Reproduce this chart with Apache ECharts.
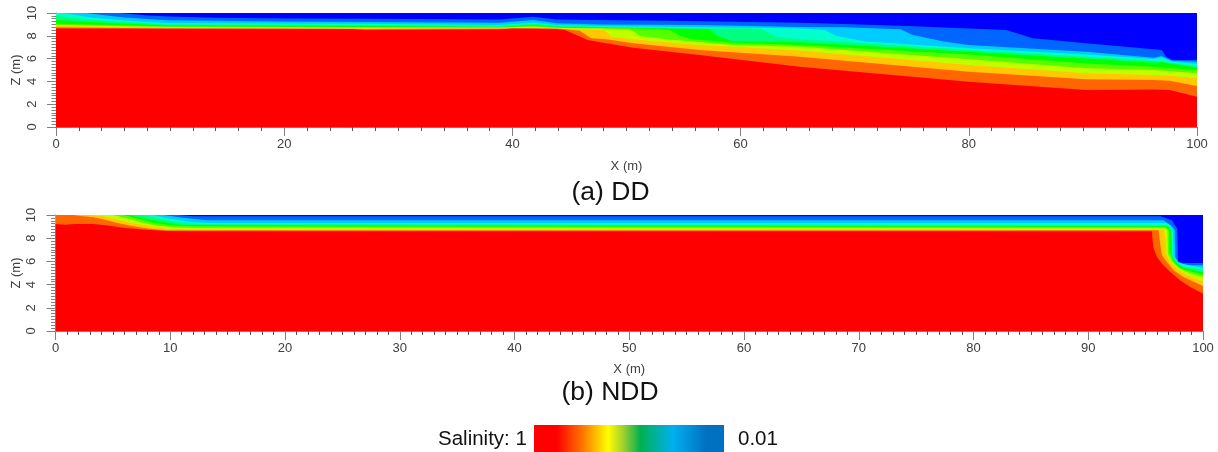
<!DOCTYPE html>
<html><head><meta charset="utf-8">
<style>html,body{margin:0;padding:0;background:#fff}#c{width:1218px;height:452px}</style>
<script src="https://cdn.jsdelivr.net/npm/echarts@6/dist/echarts.min.js"></script>
</head><body><div id="c"></div>
<script>
const layerColors=['#0000ff','#0066ff','#00ccff','#00ffcc','#00ff80','#00ff00','#55ff00','#c0ff00','#ffc800','#ff6600','#ff0000'];
const layerNames=['0.01','0.02','0.03','0.05','0.08','0.12','0.2','0.3','0.45','0.7','1'];
// DD: upper edge of each salinity band, [x, z]
const ddDeep=[[0,10],[100,10]];
const ddBlue=[[0,10],[5.6,10],[8,9.78],[10,9.7],[14,9.58],[20,9.52],[27,9.5],[38.9,9.44],[41.8,9.68],[43.9,9.44],[47.1,9.39],[53.5,9.33],[65.2,9.15],[69,9.03],[74,8.89],[83.3,8.51],[85.6,7.78],[90.3,7.34],[96.2,6.81],[96.9,6.75],[97.3,6.17],[97.8,5.88],[100,5.88]];
const ddCyan=[[0,10],[1,10],[2.6,10],[6,9.6],[9.7,9.36],[20,9.25],[27,9.2],[38.9,9.15],[41.8,9.39],[43.9,9.1],[47.7,9.0],[56.4,8.95],[65.2,8.78],[69,8.74],[74,8.57],[75.1,8.07],[77.8,7.49],[80,7.19],[90.3,6.6],[96.2,6.08],[96.9,6.23],[97.8,5.82],[100,5.73]];
const ddTurq=[[0,10],[1,9.95],[3,9.6],[6,9.35],[9.7,9.13],[20,9.08],[27,9.05],[38.9,8.95],[41.8,9.15],[43.9,8.95],[47.7,8.86],[56.4,8.74],[61.7,8.71],[65.2,8.65],[67.4,8.5],[68.4,7.98],[71,7.49],[80,6.9],[90.3,6.37],[96.2,5.96],[96.9,6.08],[97.9,5.73],[100,5.53]];
const ddSpring=[[0,9.75],[3,9.4],[6,9.2],[9.7,9.0],[20,8.98],[27,8.95],[38.9,8.86],[41.8,9.03],[43.9,8.9],[47.7,8.8],[57.3,8.65],[61.7,8.63],[63.2,7.87],[65.2,7.69],[71,7.34],[80,6.75],[90.3,6.17],[96.2,5.82],[100,5.35]];
const ddGreen=[[0,9.4],[3,9.2],[9.7,8.9],[20,8.88],[27,8.85],[38.9,8.8],[41.8,8.95],[43.9,8.8],[53.8,8.65],[57.3,8.57],[57.9,7.98],[59.4,7.49],[65.2,7.43],[80,6.6],[90.3,6.0],[96.2,5.64],[96.9,5.7],[100,5.23]];
const ddLime=[[0,9.05],[9.7,8.83],[20,8.8],[27,8.78],[38.9,8.74],[41.8,8.88],[43.9,8.72],[50.9,8.65],[53.8,8.5],[54.7,7.98],[55.8,7.69],[59.4,7.4],[65.2,7.19],[80,6.37],[90.3,5.58],[96.2,5.29],[100,5.0]];
const ddYellow=[[0,8.95],[9.7,8.78],[20,8.75],[27,8.72],[38.9,8.7],[41.8,8.8],[43.9,8.68],[47.8,8.65],[50.3,8.57],[51.2,7.98],[53.5,7.69],[59.4,7.19],[65.2,7.05],[80,5.94],[90.3,5.15],[96.2,5.0],[100,4.71]];
const ddAmber=[[0,8.85],[9.7,8.72],[20,8.68],[27,8.66],[38.9,8.66],[41.8,8.72],[43.9,8.64],[45.9,8.57],[48,8.5],[48.7,7.92],[51.2,7.63],[56.4,7.19],[65.2,6.7],[80,5.44],[90.3,4.71],[96.2,4.56],[97.9,4.47],[100,4.27]];
const ddOrange=[[0,8.75],[9.7,8.65],[20,8.62],[27,8.6],[38.9,8.62],[41.8,8.66],[43.9,8.62],[44.6,8.57],[45.9,8.45],[46.9,7.78],[48.25,7.69],[50.6,7.34],[56.4,6.75],[65.2,6.17],[80,4.85],[90.3,4.18],[96.2,4.12],[97.6,4.06],[100,3.6]];
const ddRed=[[0,8.63],[26,8.6],[27,8.5],[38.9,8.57],[40.1,8.65],[43.9,8.6],[44.6,8.5],[45.6,8.07],[46.6,7.63],[47.7,7.43],[50.6,6.96],[56.4,6.32],[65.2,5.29],[80,3.98],[90.3,3.25],[96.2,3.3],[97.6,3.25],[100,2.66]];
// NDD
const nddDeep=[[0,10],[100,10]];
const nddBlue=[[0,10],[10.7,10],[12,9.9],[13.45,9.89],[96.28,9.89],[97.29,9.54],[97.76,8.82],[97.82,6.0],[98.2,5.86],[100,5.86]];
const nddCyan=[[0,10],[9.4,10],[11.1,9.77],[13.2,9.54],[96.57,9.54],[97.44,8.88],[97.53,8.68],[97.58,6.38],[97.87,5.95],[98.5,5.66],[100,5.66]];
const nddTurq=[[0,10],[8.5,10],[10,9.68],[11.7,9.4],[13.45,9.31],[96.8,9.31],[97.15,9.11],[97.38,8.68],[97.44,6.52],[97.79,5.89],[100,5.43]];
const nddSpring=[[0,10],[7.6,10],[9.1,9.68],[10.5,9.4],[12,9.25],[14,9.2],[97.06,9.05],[97.29,8.68],[97.32,6.64],[97.73,5.89],[98.3,5.52],[100,5.32]];
const nddGreen=[[0,10],[6.5,10],[7.9,9.68],[9.4,9.4],[10.8,9.17],[12.9,9.11],[96.9,9.02],[97.2,8.68],[97.25,6.52],[97.58,5.95],[98.2,5.52],[99.2,5.23],[100,5.09]];
const nddLime=[[0,10],[5.9,10],[7.35,9.63],[8.5,9.34],[10,9.11],[12,9.02],[96.8,8.97],[97.06,8.68],[97.09,6.81],[97.44,6.0],[98,5.43],[98.9,5.14],[100,4.86]];
const nddYellow=[[0,10],[5,10],[6.5,9.63],[7.6,9.34],[9.1,9.05],[11.1,8.91],[96.71,8.91],[96.9,8.68],[96.94,6.67],[97.29,6.0],[97.87,5.43],[98.75,5.03],[100,4.66]];
const nddAmber=[[0,10],[3,10],[4.15,9.9],[5.3,9.63],[6.5,9.34],[8.2,9.02],[9.7,8.82],[12,8.76],[96.57,8.76],[96.71,7.96],[96.8,6.67],[97.15,5.95],[97.73,5.37],[98.6,4.8],[100,4.28]];
const nddOrange=[[0,10],[1.5,10],[2.4,9.9],[3.3,9.8],[4.15,9.63],[5.3,9.34],[6.8,9.02],[8.2,8.82],[9.7,8.68],[96.13,8.68],[96.28,7.39],[96.42,6.52],[96.86,5.95],[97.44,5.23],[98.3,4.66],[100,3.88]];
const nddRed=[[0,9.22],[0.8,9.17],[1.7,9.22],[3.3,9.22],[4.4,9.11],[5.9,8.91],[7.6,8.76],[9.7,8.62],[12,8.59],[95.55,8.59],[95.6,7.82],[95.7,7.1],[96,6.38],[96.42,5.8],[97.15,5.09],[98,4.37],[98.9,3.79],[100,3.22]];
const ddLayers=[ddDeep,ddBlue,ddCyan,ddTurq,ddSpring,ddGreen,ddLime,ddYellow,ddAmber,ddOrange,ddRed];
const nddLayers=[nddDeep,nddBlue,nddCyan,nddTurq,nddSpring,nddGreen,nddLime,nddYellow,nddAmber,nddOrange,nddRed];
const colorbarStops=[[0,'#ff0000'],[0.12,'#ff0000'],[0.26,'#ff7a00'],[0.39,'#ffff00'],[0.47,'#a0d030'],[0.56,'#00b050'],[0.73,'#00b0f0'],[0.91,'#0070c0'],[1,'#0070c0']];
const xMajorA=20, xMajorB=10, xMinorA=10, xMinorB=10;
const yTicks=2, yMinor=8;

const grey='#808080', txt='#404040';
const font='"Liberation Sans", Arial, sans-serif';
function xAxis(i,interval,minor,gap){return {gridIndex:i,type:'value',min:0,max:100,interval,name:'X (m)',nameLocation:'middle',nameGap:gap,
  nameTextStyle:{color:txt,fontSize:13,fontFamily:font},
  axisLine:{show:true,lineStyle:{color:grey,width:1}},axisTick:{show:true,length:9,lineStyle:{color:grey}},
  minorTick:{show:true,splitNumber:minor,length:4,lineStyle:{color:'#555'}},splitLine:{show:false},minorSplitLine:{show:false},
  axisLabel:{color:txt,fontSize:13,fontFamily:font,margin:11,hideOverlap:false}}}
function yAxis(i){return {gridIndex:i,type:'value',min:0,max:10,interval:yTicks,name:'Z (m)',nameLocation:'middle',nameGap:33,nameRotate:90,nameMoveOverlap:false,
  nameTextStyle:{color:txt,fontSize:13,fontFamily:font},
  axisLine:{show:true,lineStyle:{color:grey}},axisTick:{show:true,length:9,lineStyle:{color:grey}},
  minorTick:{show:true,splitNumber:yMinor,length:4.5,lineStyle:{color:grey}},splitLine:{show:false},minorSplitLine:{show:false},
  axisLabel:{color:txt,fontSize:13,fontFamily:font,rotate:90,margin:24,verticalAlign:'middle',align:'center'}}}
function layerSeries(layers,i){return layers.map((d,k)=>({type:'line',name:layerNames[k],xAxisIndex:i,yAxisIndex:i,data:d,showSymbol:false,symbol:'none',
  lineStyle:{width:0},areaStyle:{color:layerColors[k],opacity:1,origin:'start'},z:2+k,silent:true,animation:false,clip:true}))}
function label(x,y,text,size,align){return {type:'text',x,y,silent:true,style:{text,fill:'#111',font:size+'px '+font,textAlign:align||'center',textVerticalAlign:'middle'}}}

const chart=echarts.init(document.getElementById('c'),null,{renderer:'canvas'});
chart.setOption({animation:false,backgroundColor:'#fff',
  grid:[{left:56,top:13,width:1141,height:114},{left:55.5,top:215,width:1147.5,height:116}],
  xAxis:[xAxis(0,xMajorA,xMinorA,33),xAxis(1,xMajorB,xMinorB,32)],
  yAxis:[yAxis(0),yAxis(1)],
  series:[...layerSeries(ddLayers,0),...layerSeries(nddLayers,1)],
  graphic:[label(610.5,193,'(a) DD',26.5),label(610,393,'(b) NDD',26.5),
    label(438,439,'Salinity: 1',20.5,'left'),label(738,439,'0.01',20.5,'left'),
    {type:'rect',shape:{x:534,y:425,width:190,height:27},silent:true,
     style:{fill:new echarts.graphic.LinearGradient(0,0,1,0,colorbarStops.map(s=>({offset:s[0],color:s[1]})))}}]
});
</script></body></html>
